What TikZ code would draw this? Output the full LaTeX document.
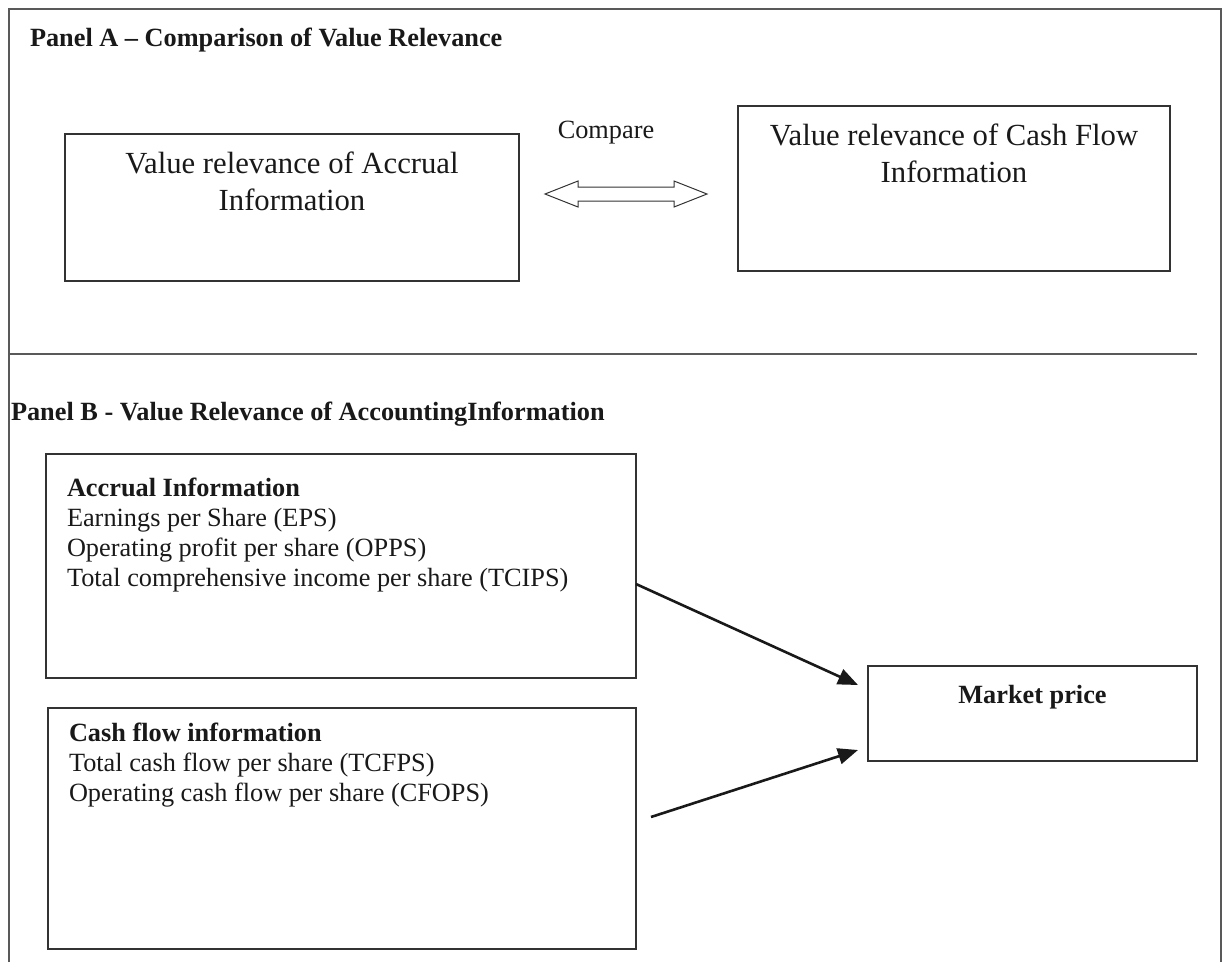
\documentclass[tikz,border=0pt]{standalone}
\usepackage{fontspec}
\setmainfont{Liberation Serif}
\usetikzlibrary{arrows.meta}
\tikzstyle{every node}=[inner sep=0pt,outer sep=0pt,text=black!90]
\newcommand{\txtsize}{\fontsize{26.3}{30.2}\selectfont}
\newcommand{\bigsize}{\fontsize{30.7}{36}\selectfont}

\begin{document}
\begin{tikzpicture}[x=1pt,y=-1pt,>={Triangle[length=20pt,width=16pt]}]
\tikzset{frame/.style={draw=black!65,line width=1.4pt},
  box/.style={draw=black!80,line width=1.3pt},
  txt/.style={anchor=base west,font=\txtsize},
  bold/.style={anchor=base west,font=\txtsize\bfseries},
  bigtxt/.style={anchor=base,font=\bigsize},
  conn/.style={draw=black!90,line width=2.6pt}}

\useasboundingbox (0,0) rectangle (1224,962);
\draw[frame] (9,962) -- (9,9) -- (1221,9) -- (1221,962);
\draw[frame] (9,354) -- (1197,354);

% Panel A
\node[bold] (pa) at (30,46) {Panel A -- Comparison of Value Relevance};
\node[box,minimum width=454,minimum height=147] (accr) at (292,207.5) {};
\node[bigtxt] (accra) at (292,173) {Value relevance of Accrual};
\node[bigtxt] (accrb) at (292,210) {Information};
\node[box,minimum width=432,minimum height=165] (cash) at (954,188.5) {};
\node[bigtxt] (casha) at (954,145) {Value relevance of Cash Flow};
\node[bigtxt] (cashb) at (954,182) {Information};
\node[anchor=base,font=\txtsize] (cmp) at (606,138) {Compare};
\draw[line width=1pt,draw=black!80] (545,194) -- (578,181) -- (578,187) -- (674,187)
  -- (674,181) -- (707,194) -- (674,207) -- (674,201) -- (578,201) -- (578,207) -- cycle;

% Panel B
\node[bold] (pb) at (11,420) {Panel B - Value Relevance of AccountingInformation};
\node[box,minimum width=590,minimum height=224] (acc) at (341,566) {};
\node[bold] (acc0) at (67,496) {Accrual Information};
\node[txt] (acc1) at (67,526) {Earnings per Share (EPS)};
\node[txt] (acc2) at (67,556) {Operating profit per share (OPPS)};
\node[txt] (acc3) at (67,586) {Total comprehensive income per share (TCIPS)};
\node[box,minimum width=588,minimum height=241] (cfl) at (342,828.5) {};
\node[bold] (cfl0) at (69,741) {Cash flow information};
\node[txt] (cfl1) at (69,771) {Total cash flow per share (TCFPS)};
\node[txt] (cfl2) at (69,801) {Operating cash flow per share (CFOPS)};
\node[box,minimum width=329,minimum height=95] (mkt) at (1032.5,713.5) {};
\node[anchor=base,font=\txtsize\bfseries] (mktt) at (1032.5,703) {Market price};

\coordinate (accout) at (636,584);
\coordinate (cflout) at (651,817);
\coordinate (mktin1) at (858,685);
\coordinate (mktin2) at (858,750);
\draw[conn,->] (accout) -- (mktin1);
\draw[conn,->] (cflout) -- (mktin2);

\end{tikzpicture}
\end{document}
